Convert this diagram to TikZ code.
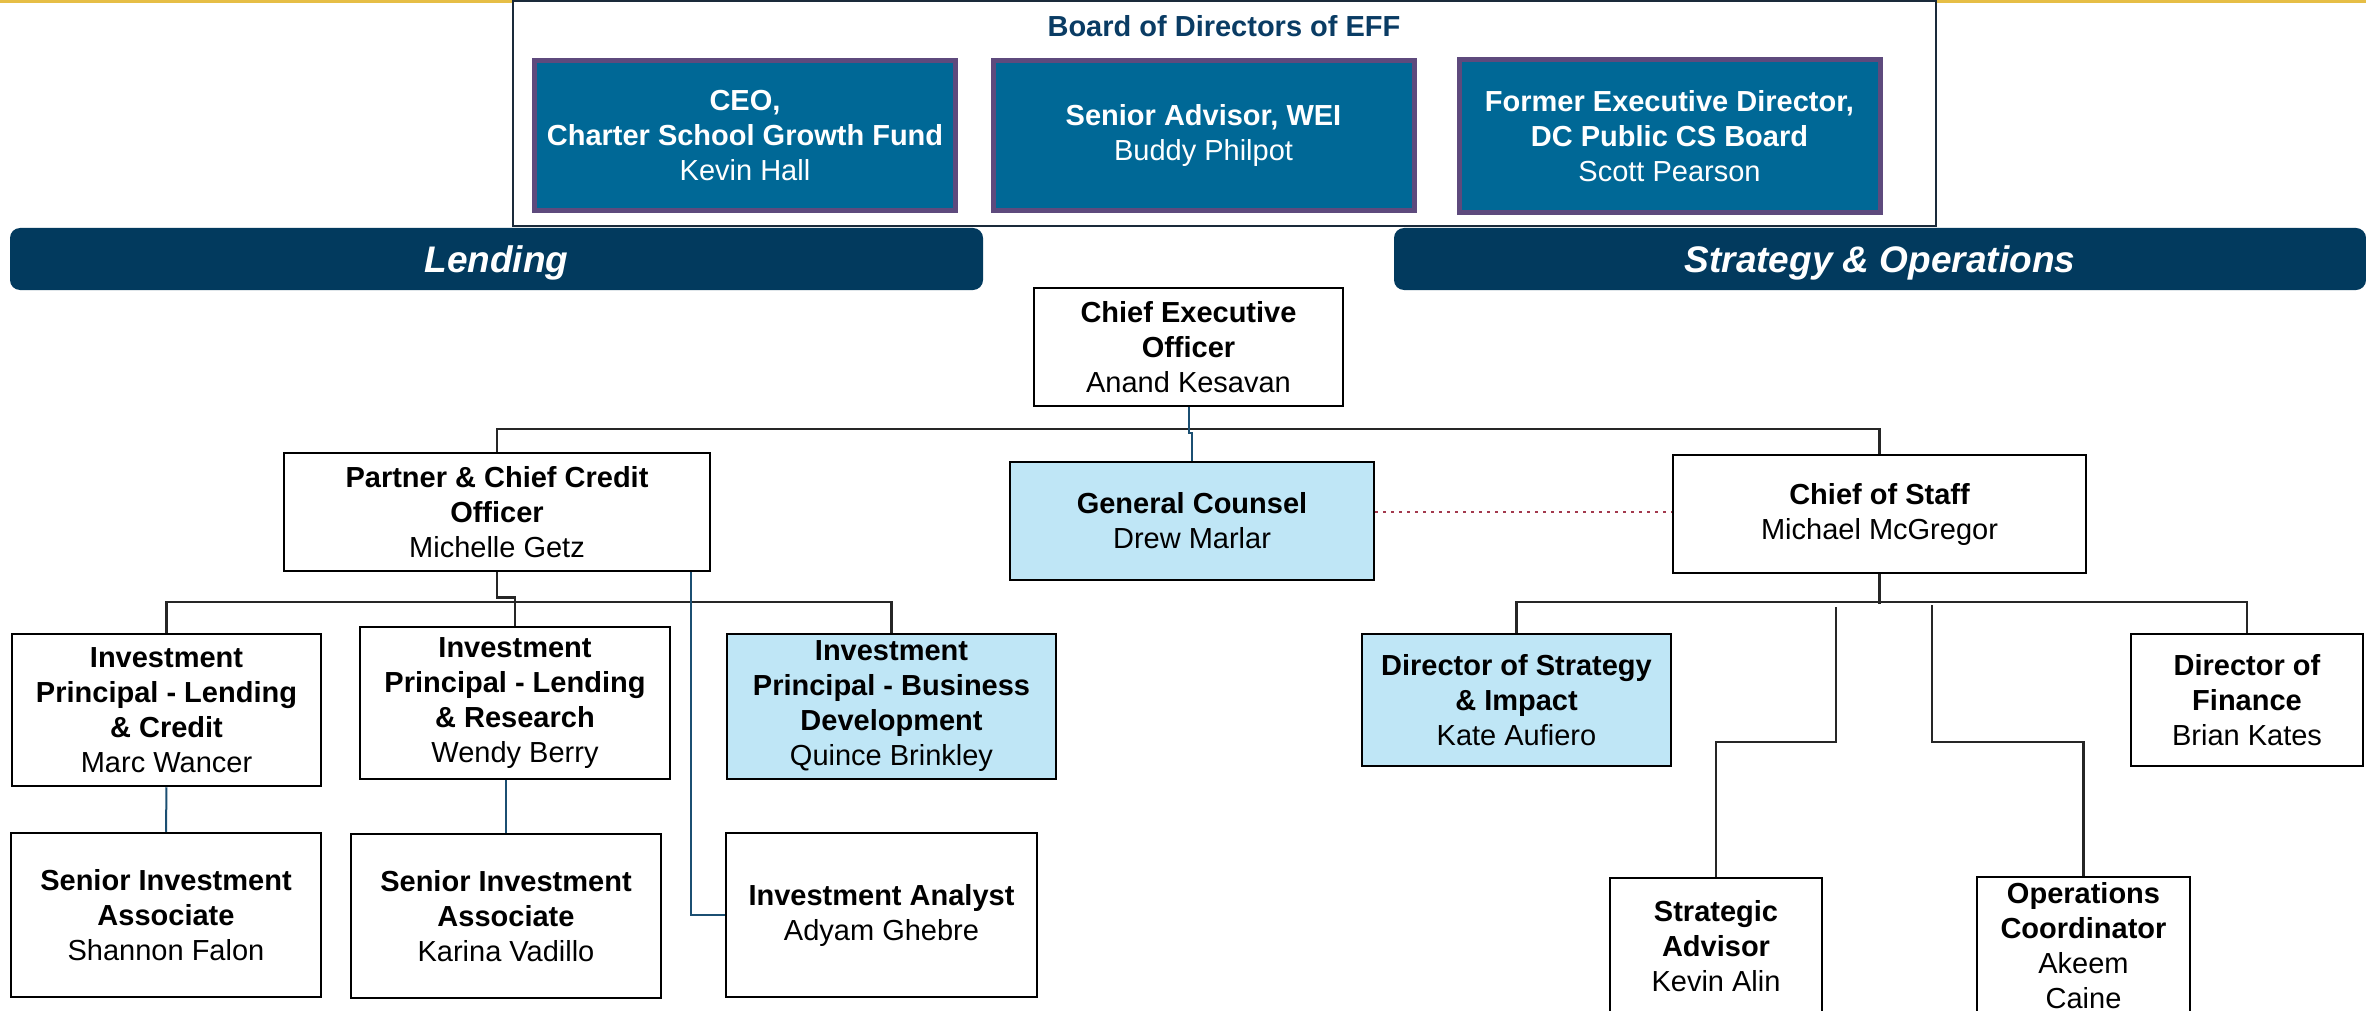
\documentclass[tikz,border=0pt]{standalone}
\usepackage{fontspec}
\setmainfont{Liberation Sans}
\definecolor{navybar}{HTML}{023A5E}
\definecolor{tealf}{HTML}{006896}
\definecolor{purpleb}{HTML}{5E4A7D}
\definecolor{lightblue}{HTML}{BFE6F6}
\definecolor{titlenavy}{HTML}{0A3C64}
\definecolor{navyline}{HTML}{1B4F72}
\definecolor{dotred}{HTML}{A33A4E}
\definecolor{goldline}{HTML}{E6BE46}
\definecolor{boardline}{HTML}{1A2A3A}
\newcommand{\fsz}{\fontsize{29}{35}\selectfont}
\newcommand{\barfont}{\fontsize{37}{44}\selectfont\bfseries\itshape}
\begin{document}
\begin{tikzpicture}[x=1pt,y=-1pt,
  box/.style={draw=black, line width=2.5pt, fill=white, inner sep=0pt, align=center, font=\fsz, text=black},
  bluebox/.style={box, fill=lightblue},
  member/.style={draw=purpleb, line width=5pt, fill=tealf, text=white, align=center, font=\fsz, inner sep=0pt},
  bar/.style={fill=navybar, rounded corners=10pt, text=white, font=\barfont, inner sep=0pt, text depth=0pt},
  conn/.style={line width=2.5pt, draw=black!85},
  navyl/.style={line width=2pt, draw=navyline},
  dotl/.style={line width=2.5pt, draw=dotred, dash pattern=on 2.5pt off 5.5pt}]
\useasboundingbox (0,0) rectangle (2366,1011);
\clip (0,0) rectangle (2366,1011);
\fill[white] (0,0) rectangle (2366,1011);
% gold top line
\draw[line width=3pt, draw=goldline] (0,1.5) -- (2366,1.5);
% board
\node[draw=boardline, line width=2pt, fill=white, minimum width=1423, minimum height=225, inner sep=0pt] (board) at (1224.5,114) {};
\node[font=\fsz\bfseries, text=titlenavy, anchor=base, inner sep=0pt] (boardtitle) at (1224,37) {Board of Directors of EFF};
\node[member, minimum width=421, minimum height=150] (b1) at (745,136) {\textbf{CEO,}\\\textbf{Charter School Growth Fund}\\Kevin Hall};
\node[member, minimum width=421, minimum height=150] (b2) at (1203.5,136) {\textbf{Senior Advisor, WEI}\\Buddy Philpot};
\node[member, minimum width=421, minimum height=153] (b3) at (1669.5,136) {\textbf{Former Executive Director,}\\\textbf{DC Public CS Board}\\Scott Pearson};
% bars
\node[bar, minimum width=973, minimum height=62] (lending) at (496.5,259) {Lending};
\node[bar, minimum width=972, minimum height=62] (strat) at (1880,259) {Strategy \& Operations};
% org boxes
\node[box, minimum width=309, minimum height=118] (ceo) at (1188.5,347) {\textbf{Chief Executive}\\\textbf{Officer}\\Anand Kesavan};
\node[box, minimum width=426, minimum height=118] (partner) at (497,512) {\textbf{Partner \& Chief Credit}\\\textbf{Officer}\\Michelle Getz};
\node[bluebox, minimum width=364, minimum height=118] (gc) at (1192,521) {\textbf{General Counsel}\\Drew Marlar};
\node[box, minimum width=413, minimum height=118] (cos) at (1879.5,514) {\textbf{Chief of Staff}\\Michael McGregor};
\node[box, minimum width=309, minimum height=152] (iplc) at (166.5,710) {\textbf{Investment}\\\textbf{Principal - Lending}\\\textbf{\& Credit}\\Marc Wancer};
\node[box, minimum width=310, minimum height=152] (iplr) at (515,703) {\textbf{Investment}\\\textbf{Principal - Lending}\\\textbf{\& Research}\\Wendy Berry};
\node[bluebox, minimum width=329, minimum height=145] (ipbd) at (891.5,706.5) {\textbf{Investment}\\\textbf{Principal - Business}\\\textbf{Development}\\Quince Brinkley};
\node[bluebox, minimum width=309, minimum height=132] (dsi) at (1516.5,700) {\textbf{Director of Strategy}\\\textbf{\& Impact}\\Kate Aufiero};
\node[box, minimum width=232, minimum height=132] (dof) at (2247,700) {\textbf{Director of}\\\textbf{Finance}\\Brian Kates};
\node[box, minimum width=310, minimum height=164] (sia1) at (166,915) {\textbf{Senior Investment}\\\textbf{Associate}\\Shannon Falon};
\node[box, minimum width=310, minimum height=164] (sia2) at (506,916) {\textbf{Senior Investment}\\\textbf{Associate}\\Karina Vadillo};
\node[box, minimum width=311, minimum height=164] (ia) at (881.5,915) {\textbf{Investment Analyst}\\Adyam Ghebre};
\node[box, minimum width=212, minimum height=136] (sa) at (1716,946) {\textbf{Strategic}\\\textbf{Advisor}\\Kevin Alin};
\node[box, minimum width=213, minimum height=138] (oc) at (2083.5,946) {\textbf{Operations}\\\textbf{Coordinator}\\Akeem\\Caine};
% connectors
\draw[conn] (partner.north) -- ++(0,-23) -| (cos.north);
\draw[navyl] (ceo.south) -- ++(0,26) -| (gc.north);
\draw[dotl] (gc.east |- 0,512) -- (cos.west |- 0,512);
\draw[conn] (partner.south) -- ++(0,25) -| (iplr.north);
\draw[conn] (iplc.north) -- ++(0,-31) -| (ipbd.north);
\draw[navyl] ([xshift=-20pt]partner.south east) |- (ia.west);
\draw[navyl] (iplc.south) -- (sia1.north);
\draw[navyl] (sia2.north) -- (sia2.north |- iplr.south);
\draw[conn] (cos.south) -- ++(0,30);
\draw[conn] (dsi.north) -- ++(0,-31) -| (dof.north);
\coordinate (satop) at (1836,607);
\coordinate (octop) at (1932,605);
\draw[conn] (satop) -- ++(0,135) -| (sa.north);
\draw[conn] (octop) -- ++(0,137) -| (oc.north);
\end{tikzpicture}
\end{document}
